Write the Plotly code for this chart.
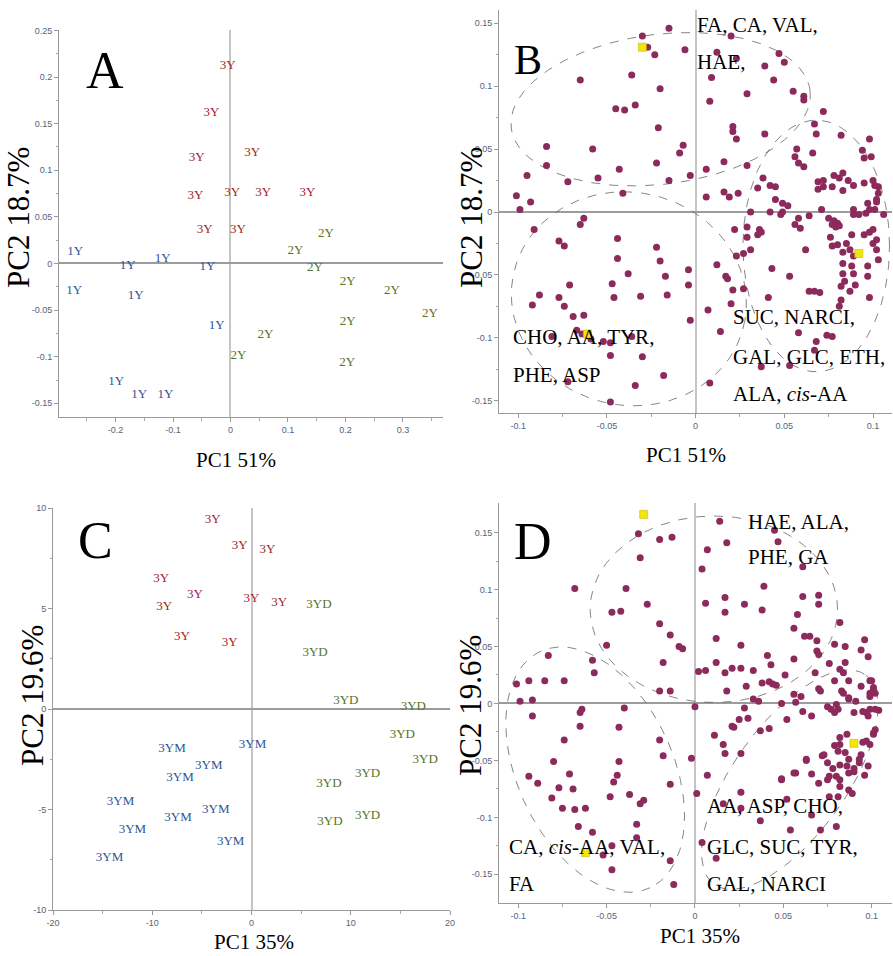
import numpy as np
import plotly.graph_objects as go

W, H = 893, 956

# ---------------- Panel A: sample scores (PC1 51%, PC2 18.7%) ----------------
A_3Y_X = [-0.005, -0.033, -0.059, 0.038, -0.061, 0.003, 0.057, 0.134, -0.045, 0.013]
A_3Y_Y = [0.212, 0.162, 0.113, 0.119, 0.073, 0.076, 0.076, 0.076, 0.036, 0.036]
A_2Y_X = [0.166, 0.113, 0.147, 0.204, 0.281, 0.347, 0.204, 0.061, 0.014, 0.203]
A_2Y_Y = [0.032, 0.014, -0.005, -0.020, -0.029, -0.054, -0.063, -0.076, -0.099, -0.107]
A_1Y_X = [-0.270, -0.179, -0.118, -0.040, -0.272, -0.165, -0.024, -0.199, -0.159, -0.113]
A_1Y_Y = [0.013, -0.002, 0.005, -0.004, -0.029, -0.035, -0.067, -0.127, -0.141, -0.141]

# ---------------- Panel C: sample scores (PC1 35%, PC2 19.6%) ----------------
C_3Y_X = [-3.9, -1.2, 1.6, -9.1, -5.7, -8.8, 0.0, 2.8, -7.0, -2.2]
C_3Y_Y = [9.4, 8.1, 7.9, 6.5, 5.7, 5.1, 5.5, 5.3, 3.6, 3.3]
C_3YD_X = [6.8, 6.4, 9.5, 16.3, 15.2, 17.5, 11.7, 7.8, 11.7, 7.9]
C_3YD_Y = [5.2, 2.8, 0.4, 0.1, -1.3, -2.5, -3.2, -3.7, -5.3, -5.6]
C_3YM_X = [0.1, -8.0, -4.3, -7.2, -13.2, -7.4, -3.6, -12.0, -2.1, -14.3]
C_3YM_Y = [-1.8, -2.0, -2.8, -3.4, -4.6, -5.4, -5.0, -6.0, -6.6, -7.4]

# ---------------- Panel B: variable loadings ----------------
B_POINTS = [
    (-0.015, 0.146), (-0.030, 0.140), (-0.027, 0.131), (-0.023, 0.125), (-0.006, 0.129),
    (0.020, 0.140), (0.012, 0.127), (0.023, 0.122), (0.009, 0.107), (-0.065, 0.105),
    (-0.036, 0.109), (-0.020, 0.098), (-0.045, 0.082), (-0.040, 0.081), (-0.034, 0.085),
    (-0.021, 0.067), (0.008, 0.088), (0.029, 0.094), (0.039, 0.116), (0.044, 0.105),
    (0.047, 0.126), (0.050, 0.119), (0.055, 0.096), (0.061, 0.092), (0.061, 0.089),
    (0.021, 0.068), (0.021, 0.064), (0.023, 0.058), (-0.084, 0.052), (-0.058, 0.050),
    (-0.084, 0.037), (-0.043, 0.034), (-0.022, 0.039), (-0.009, 0.047), (-0.007, 0.053),
    (-0.095, 0.029), (-0.072, 0.024), (-0.055, 0.027), (-0.015, 0.025), (-0.003, 0.029),
    (0.006, 0.034), (0.016, 0.040), (0.029, 0.037), (0.039, 0.062), (0.072, 0.080),
    (0.067, 0.070), (0.068, 0.062), (0.082, 0.061), (0.098, 0.058), (0.094, 0.049),
    (0.095, 0.043), (0.099, 0.044), (0.057, 0.050), (0.056, 0.044), (0.058, 0.039),
    (0.061, 0.036), (0.066, 0.047), (-0.041, 0.015), (-0.101, 0.013), (-0.099, 0.002),
    (-0.093, 0.008), (0.006, 0.012), (0.016, 0.016), (0.019, 0.012), (0.024, 0.015),
    (0.038, 0.027), (0.035, 0.019), (0.042, 0.021), (0.045, 0.020), (0.045, 0.010),
    (0.031, 0.000), (0.042, 0.000), (0.049, 0.007), (0.052, 0.005), (0.049, 0.000),
    (0.048, -0.002), (0.069, 0.024), (0.069, 0.018), (0.072, 0.025), (0.072, 0.020),
    (0.077, 0.020), (0.078, 0.029), (0.081, 0.027), (0.083, 0.031), (0.086, 0.025),
    (0.089, 0.021), (0.083, 0.017), (0.095, 0.023), (0.100, 0.025), (0.101, 0.021),
    (0.103, 0.020), (0.102, 0.010), (0.103, 0.015), (0.071, 0.002), (0.064, -0.003),
    (0.058, -0.005), (0.056, -0.010), (0.059, -0.013), (0.075, -0.005), (0.078, -0.007),
    (0.080, -0.009), (0.081, -0.011), (0.079, -0.012), (0.077, -0.010), (0.089, 0.002),
    (0.089, -0.002), (0.092, -0.002), (0.096, -0.001), (0.098, 0.002), (0.097, 0.007),
    (0.101, 0.002), (0.102, 0.008), (0.106, -0.002), (0.088, -0.018), (0.095, -0.018),
    (0.098, -0.016), (0.100, -0.014), (0.102, -0.022), (0.100, -0.025), (0.076, -0.020),
    (0.077, -0.027), (0.080, -0.026), (0.085, -0.025), (0.087, -0.030), (0.083, -0.032),
    (0.089, -0.035), (0.062, -0.030), (0.036, -0.014), (0.037, -0.016), (0.035, -0.018),
    (0.022, -0.014), (0.029, -0.012), (0.029, -0.020), (0.102, -0.030), (0.103, -0.038),
    (0.097, -0.043), (0.097, -0.051), (0.083, -0.041), (0.083, -0.049), (0.088, -0.043),
    (0.089, -0.049), (0.084, -0.055), (0.082, -0.059), (0.087, -0.063), (0.090, -0.058),
    (0.043, -0.045), (0.053, -0.051), (0.064, -0.063), (0.067, -0.063), (0.070, -0.064),
    (0.023, -0.035), (0.027, -0.033), (0.031, -0.030), (0.041, -0.068), (0.027, -0.061),
    (0.081, -0.075), (0.082, -0.070), (0.098, -0.068), (-0.091, -0.014), (-0.065, -0.010),
    (-0.063, -0.005), (-0.077, -0.023), (-0.074, -0.027), (-0.044, -0.021), (-0.044, -0.037),
    (-0.038, -0.049), (-0.022, -0.028), (-0.020, -0.039), (-0.017, -0.051), (-0.004, -0.046),
    (-0.004, -0.058), (-0.047, -0.057), (-0.046, -0.068), (-0.031, -0.067), (-0.016, -0.066),
    (-0.071, -0.058), (-0.088, -0.066), (-0.092, -0.074), (-0.077, -0.068), (-0.074, -0.075),
    (-0.069, -0.083), (-0.063, -0.082), (0.007, -0.078), (0.017, -0.051), (0.018, -0.053),
    (0.021, -0.062), (0.020, -0.073), (0.012, -0.042), (-0.081, -0.099), (-0.067, -0.094),
    (-0.064, -0.097), (-0.059, -0.101), (-0.052, -0.103), (-0.048, -0.104), (-0.048, -0.114),
    (-0.030, -0.115), (-0.036, -0.099), (-0.003, -0.086), (0.014, -0.095), (-0.018, -0.130),
    (-0.034, -0.138), (-0.048, -0.151), (-0.072, -0.135), (0.008, -0.136), (0.058, -0.096),
    (0.074, -0.098), (0.077, -0.099), (0.068, -0.103), (0.067, -0.110), (0.037, -0.123),
    (0.053, -0.122),
]
B_MARKED = [(-0.030, 0.131), (-0.061, -0.097), (0.092, -0.033)]

# ---------------- Panel D: variable loadings ----------------
D_POINTS = [
    (0.014, 0.160), (-0.032, 0.149), (-0.020, 0.144), (-0.013, 0.146), (-0.031, 0.128),
    (0.007, 0.135), (0.018, 0.141), (0.045, 0.152), (0.047, 0.142), (0.004, 0.118),
    (0.061, 0.120), (-0.068, 0.101), (-0.039, 0.101), (-0.047, 0.080), (-0.042, 0.081),
    (-0.027, 0.087), (0.006, 0.088), (0.017, 0.093), (0.017, 0.080), (0.028, 0.087),
    (0.039, 0.103), (0.038, 0.082), (0.061, 0.094), (0.058, 0.078), (0.070, 0.095),
    (0.070, 0.087), (-0.020, 0.070), (-0.014, 0.060), (-0.009, 0.050), (-0.007, 0.048),
    (-0.050, 0.051), (-0.018, 0.036), (0.012, 0.057), (0.026, 0.051), (0.056, 0.066),
    (0.062, 0.059), (0.065, 0.059), (0.069, 0.055), (0.069, 0.046), (0.070, 0.043),
    (0.082, 0.071), (0.079, 0.052), (0.085, 0.050), (0.096, 0.056), (0.094, 0.047),
    (0.098, 0.041), (0.041, 0.042), (0.056, 0.039), (0.043, 0.034), (0.051, 0.025),
    (0.076, 0.035), (0.085, 0.036), (0.082, 0.030), (0.084, 0.027), (0.012, 0.036),
    (0.017, 0.027), (0.021, 0.031), (0.026, 0.031), (0.033, 0.029), (0.002, 0.028),
    (0.006, 0.029), (0.068, 0.027), (0.079, 0.020), (0.087, 0.020), (0.099, 0.020),
    (0.094, 0.015), (0.101, 0.014), (0.102, 0.009), (0.099, 0.009), (0.038, 0.018),
    (0.042, 0.019), (0.044, 0.017), (0.046, 0.016), (0.029, 0.015), (0.018, 0.011),
    (0.070, 0.013), (0.071, 0.011), (0.084, 0.009), (0.087, 0.004), (0.091, 0.002),
    (0.056, 0.008), (0.060, 0.006), (0.057, 0.001), (0.049, 0.000), (0.033, 0.004),
    (0.036, 0.002), (0.075, -0.003), (0.077, -0.005), (0.080, -0.001), (0.081, -0.005),
    (0.079, -0.008), (0.095, -0.007), (0.097, -0.008), (0.099, -0.005), (0.102, -0.005),
    (0.104, -0.006), (0.098, -0.011), (0.090, -0.008), (0.083, 0.011), (0.087, 0.005),
    (0.100, 0.020), (0.101, 0.012), (0.099, 0.006), (0.061, -0.007), (0.066, -0.011),
    (0.052, -0.014), (0.028, -0.004), (0.025, -0.014), (0.030, -0.013), (0.021, -0.020),
    (0.000, -0.003), (-0.020, 0.011), (-0.014, 0.011), (-0.101, 0.017), (-0.094, 0.020),
    (-0.085, 0.020), (-0.074, 0.020), (-0.099, 0.002), (-0.092, 0.003), (-0.092, -0.011),
    (-0.083, 0.042), (-0.058, 0.038), (-0.057, 0.027), (-0.064, -0.005), (-0.065, -0.008),
    (-0.040, -0.004), (-0.065, -0.020), (-0.043, -0.021), (-0.074, -0.032), (-0.020, -0.032),
    (-0.018, -0.046), (-0.002, -0.048), (-0.080, -0.051), (-0.043, -0.051), (-0.094, -0.064),
    (-0.089, -0.070), (-0.071, -0.062), (-0.077, -0.074), (-0.069, -0.075), (-0.044, -0.063),
    (-0.046, -0.069), (-0.048, -0.082), (-0.037, -0.080), (-0.031, -0.088), (-0.029, -0.085),
    (-0.014, -0.071), (0.001, -0.079), (0.011, -0.028), (0.016, -0.036), (0.017, -0.044),
    (0.007, -0.063), (0.022, -0.021), (-0.081, -0.083), (-0.075, -0.092), (-0.068, -0.093),
    (-0.062, -0.092), (-0.066, -0.108), (-0.058, -0.113), (-0.052, -0.133), (-0.047, -0.125),
    (-0.047, -0.146), (-0.033, -0.106), (-0.033, -0.118), (-0.014, -0.138), (-0.012, -0.159),
    (0.004, -0.122), (0.012, -0.136), (0.026, -0.044), (0.026, -0.078), (0.026, -0.092),
    (0.016, -0.088), (0.037, -0.103), (0.054, -0.111), (0.066, -0.098), (0.071, -0.111),
    (0.080, -0.108), (0.052, -0.084), (0.049, -0.067), (0.057, -0.061), (0.063, -0.050),
    (0.066, -0.062), (0.070, -0.070), (0.075, -0.067), (0.073, -0.045), (0.086, -0.027),
    (0.082, -0.036), (0.079, -0.037), (0.081, -0.042), (0.085, -0.043), (0.087, -0.049),
    (0.086, -0.055), (0.082, -0.054), (0.078, -0.057), (0.087, -0.061), (0.090, -0.060),
    (0.093, -0.049), (0.097, -0.033), (0.099, -0.036), (0.102, -0.023), (0.101, -0.027),
    (0.096, -0.063), (0.098, -0.055), (0.082, -0.030), (0.076, -0.064), (0.080, -0.064),
    (0.082, -0.067), (0.082, -0.073), (0.087, -0.076), (0.089, -0.079), (0.090, -0.057),
    (0.075, -0.052), (0.093, -0.052), (0.094, -0.045), (0.095, -0.034), (0.101, -0.026),
    (0.076, -0.082), (0.081, -0.082), (0.072, -0.046), (0.063, -0.049), (0.056, -0.061),
    (0.049, -0.066), (0.037, -0.024), (0.042, -0.022),
]
D_MARKED = [(-0.029, 0.166), (-0.062, -0.131), (0.090, -0.035)]

# Confidence ellipses: centre and the two semi-axis vectors (data units)
B_ELLIPSES = [
    dict(cx=-0.0197, cy=0.0817, ux=0.0842, uy=0.0150, vx=0.0053, vy=-0.0591),
    dict(cx=-0.0376, cy=-0.0690, ux=0.0654, uy=-0.0171, vx=-0.0105, vy=-0.0833),
    dict(cx=0.0680, cy=-0.0270, ux=0.0413, uy=0.0, vx=0.0, vy=0.1000),
]
D_ELLIPSES = [
    dict(cx=0.0107, cy=0.0827, ux=0.0700, uy=0.0, vx=0.0, vy=0.0819),
    dict(cx=-0.0565, cy=-0.0581, ux=0.0311, uy=-0.1037, vx=-0.0399, vy=-0.0290),
    dict(cx=0.0537, cy=-0.0669, ux=0.0429, uy=0.0919, vx=0.0256, vy=-0.0290),
]

# Tick values / labels
A_XTICKS = [-0.2, -0.1, 0, 0.1, 0.2, 0.3]
A_XTEXT = ["-0.2", "-0.1", "0", "0.1", "0.2", "0.3"]
A_YTICKS = [-0.15, -0.1, -0.05, 0, 0.05, 0.1, 0.15, 0.2, 0.25]
A_YTEXT = ["-0.15", "-0.1", "-0.05", "0", "0.05", "0.1", "0.15", "0.2", "0.25"]
L_XTICKS = [-0.1, -0.05, 0, 0.05, 0.1]
L_XTEXT = ["-0.1", "-0.05", "0", "0.05", "0.1"]
L_YTICKS = [-0.15, -0.1, -0.05, 0, 0.05, 0.1, 0.15]
L_YTEXT = ["-0.15", "-0.1", "-0.05", "0", "0.05", "0.1", "0.15"]
C_XTICKS = [-20, -10, 0, 10, 20]
C_XTEXT = ["-20", "-10", "0", "10", "20"]
C_YTICKS = [-10, -5, 0, 5, 10]
C_YTEXT = ["-10", "-5", "0", "5", "10"]

RED, GREEN, BLUE = "#a0262b", "#55742a", "#2f5597"
DOT, YELLOW = "#8c2a5c", "#f3e60f"
SERIF = "Liberation Serif, Times New Roman, serif"

fig = go.Figure()


def text_trace(xs, ys, label, color, ax):
    fig.add_trace(go.Scatter(
        x=xs, y=ys, mode="text", text=[label] * len(xs),
        textfont=dict(family=SERIF, size=13, color=color),
        textposition="middle center", xaxis=ax[0], yaxis=ax[1],
        showlegend=False, hoverinfo="skip"))


def ellipse_traces(ells, ax):
    t = np.linspace(0, 2 * np.pi, 240)
    for e in ells:
        xs = e["cx"] + e["ux"] * np.cos(t) + e["vx"] * np.sin(t)
        ys = e["cy"] + e["uy"] * np.cos(t) + e["vy"] * np.sin(t)
        fig.add_trace(go.Scatter(
            x=xs, y=ys, mode="lines", line=dict(color="#666", width=0.8, dash="dash"),
            xaxis=ax[0], yaxis=ax[1], showlegend=False, hoverinfo="skip"))


def dots(points, marked, ax):
    fig.add_trace(go.Scatter(
        x=[p[0] for p in points], y=[p[1] for p in points], mode="markers",
        marker=dict(size=7, color=DOT, line=dict(width=0)),
        xaxis=ax[0], yaxis=ax[1], showlegend=False))
    fig.add_trace(go.Scatter(
        x=[p[0] for p in marked], y=[p[1] for p in marked], mode="markers",
        marker=dict(size=8, symbol="square", color=YELLOW, line=dict(width=0.6, color="#c9b800")),
        xaxis=ax[0], yaxis=ax[1], showlegend=False))


# Panel A
text_trace(A_3Y_X, A_3Y_Y, "3Y", RED, ("x", "y"))
text_trace(A_2Y_X, A_2Y_Y, "2Y", GREEN, ("x", "y"))
text_trace(A_1Y_X, A_1Y_Y, "1Y", BLUE, ("x", "y"))
# Panel B
ellipse_traces(B_ELLIPSES, ("x2", "y2"))
dots(B_POINTS, B_MARKED, ("x2", "y2"))
# Panel C
text_trace(C_3Y_X, C_3Y_Y, "3Y", RED, ("x3", "y3"))
text_trace(C_3YD_X, C_3YD_Y, "3YD", GREEN, ("x3", "y3"))
text_trace(C_3YM_X, C_3YM_Y, "3YM", BLUE, ("x3", "y3"))
# Panel D
ellipse_traces(D_ELLIPSES, ("x4", "y4"))
dots(D_POINTS, D_MARKED, ("x4", "y4"))

TICKFONT = dict(family="Liberation Sans Narrow, Liberation Sans, Arial", size=9, color="#55637d")


def axis(domain, rng, tickvals, ticktext, minor_vals, anchor, zcolor, zwidth):
    return dict(
        domain=domain, range=rng, anchor=anchor, showgrid=False, automargin=False,
        showline=True, linecolor="#9a9a9a", linewidth=1,
        ticks="outside", ticklen=4, tickcolor="#9a9a9a", tickwidth=1,
        tickmode="array", tickvals=tickvals, ticktext=ticktext, tickfont=TICKFONT,
        minor=dict(tickvals=minor_vals, ticks="outside", ticklen=2.5, tickcolor="#aaa"),
        zeroline=True, zerolinecolor=zcolor, zerolinewidth=zwidth, fixedrange=True)


def dx(a, b):
    return [a / W, b / W]


def dy(top, bottom):
    return [1 - bottom / H, 1 - top / H]


VZ, HZ = "#c4c4c4", "#9c9c9c"
fig.update_layout(
    xaxis=axis(dx(59, 443), [-0.2984, 0.3698], A_XTICKS, A_XTEXT,
               [-0.25, -0.15, -0.05, 0.05, 0.15, 0.25, 0.35], "y", VZ, 1.5),
    yaxis=axis(dy(30, 417), [-0.1647, 0.2505], A_YTICKS, A_YTEXT,
               [-0.125, -0.075, -0.025, 0.025, 0.075, 0.125, 0.175, 0.225], "x", HZ, 2),
    xaxis2=axis(dx(499, 892), [-0.1108, 0.1107], L_XTICKS, L_XTEXT,
                [-0.075, -0.025, 0.025, 0.075], "y2", VZ, 1.5),
    yaxis2=axis(dy(10, 413), [-0.1598, 0.1606], L_YTICKS, L_YTEXT,
                [-0.125, -0.075, -0.025, 0.025, 0.075, 0.125], "x2", HZ, 2),
    xaxis3=axis(dx(53, 450), [-20, 20], C_XTICKS, C_XTEXT, [-15, -5, 5, 15], "y3", VZ, 1.5),
    yaxis3=axis(dy(508, 910), [-10, 10], C_YTICKS, C_YTEXT, [-7.5, -2.5, 2.5, 7.5], "x3", HZ, 1.5),
    xaxis4=axis(dx(499, 892), [-0.1109, 0.1115], L_XTICKS, L_XTEXT,
                [-0.075, -0.025, 0.025, 0.075], "y4", VZ, 1.5),
    yaxis4=axis(dy(503, 903), [-0.1752, 0.1760], L_YTICKS, L_YTEXT,
                [-0.125, -0.075, -0.025, 0.025, 0.075, 0.125], "x4", HZ, 2),
)

annotations = []


def note(text, px, py, size, xanchor="center", angle=0):
    annotations.append(dict(
        text=text, x=px / W, y=1 - py / H, xref="paper", yref="paper",
        xanchor=xanchor, yanchor="middle", showarrow=False, textangle=angle,
        font=dict(family=SERIF, size=size, color="black")))


# Panel letters
note("A", 105, 70, 52)
note("B", 528, 60, 42)
note("C", 95, 540, 52)
note("D", 533, 541, 52)
# Axis titles
note("PC1 51%", 236, 460, 21)
note("PC2 18.7%", 18, 218, 31, angle=-90)
note("PC1 51%", 686, 455, 21)
note("PC2 18.7%", 471, 218, 31, angle=-90)
note("PC1 35%", 254, 942, 21)
note("PC2 19.6%", 32, 696, 31, angle=-90)
note("PC1 35%", 700, 936, 21)
note("PC2 19.6%", 470, 706, 31, angle=-90)
# Metabolite group labels, panel B
note("FA, CA, VAL,", 695, 25, 21, "left")
note("HAE,", 695, 62, 21, "left")
note("CHO, AA, TYR,", 511, 337, 21, "left")
note("PHE, ASP", 511, 375, 21, "left")
note("SUC, NARCI,", 731, 317, 21, "left")
note("GAL, GLC, ETH,", 731, 357, 21, "left")
note("ALA, <i>cis</i>-AA", 731, 394, 21, "left")
# Metabolite group labels, panel D
note("HAE, ALA,", 746, 522, 21, "left")
note("PHE, GA", 746, 557, 21, "left")
note("AA, ASP, CHO,", 705, 806, 21, "left")
note("GLC, SUC, TYR,", 705, 847, 21, "left")
note("GAL, NARCI", 705, 884, 21, "left")
note("CA, <i>cis</i>-AA, VAL,", 507, 847, 21, "left")
note("FA", 507, 884, 21, "left")

fig.update_layout(
    annotations=annotations, width=W, height=H,
    margin=dict(l=0, r=0, t=0, b=0),
    paper_bgcolor="white", plot_bgcolor="white", showlegend=False)

fig.write_html(
    "out.html",
    config={"displayModeBar": False},
    post_script="document.body.style.margin='0';document.body.style.overflow='hidden';")
